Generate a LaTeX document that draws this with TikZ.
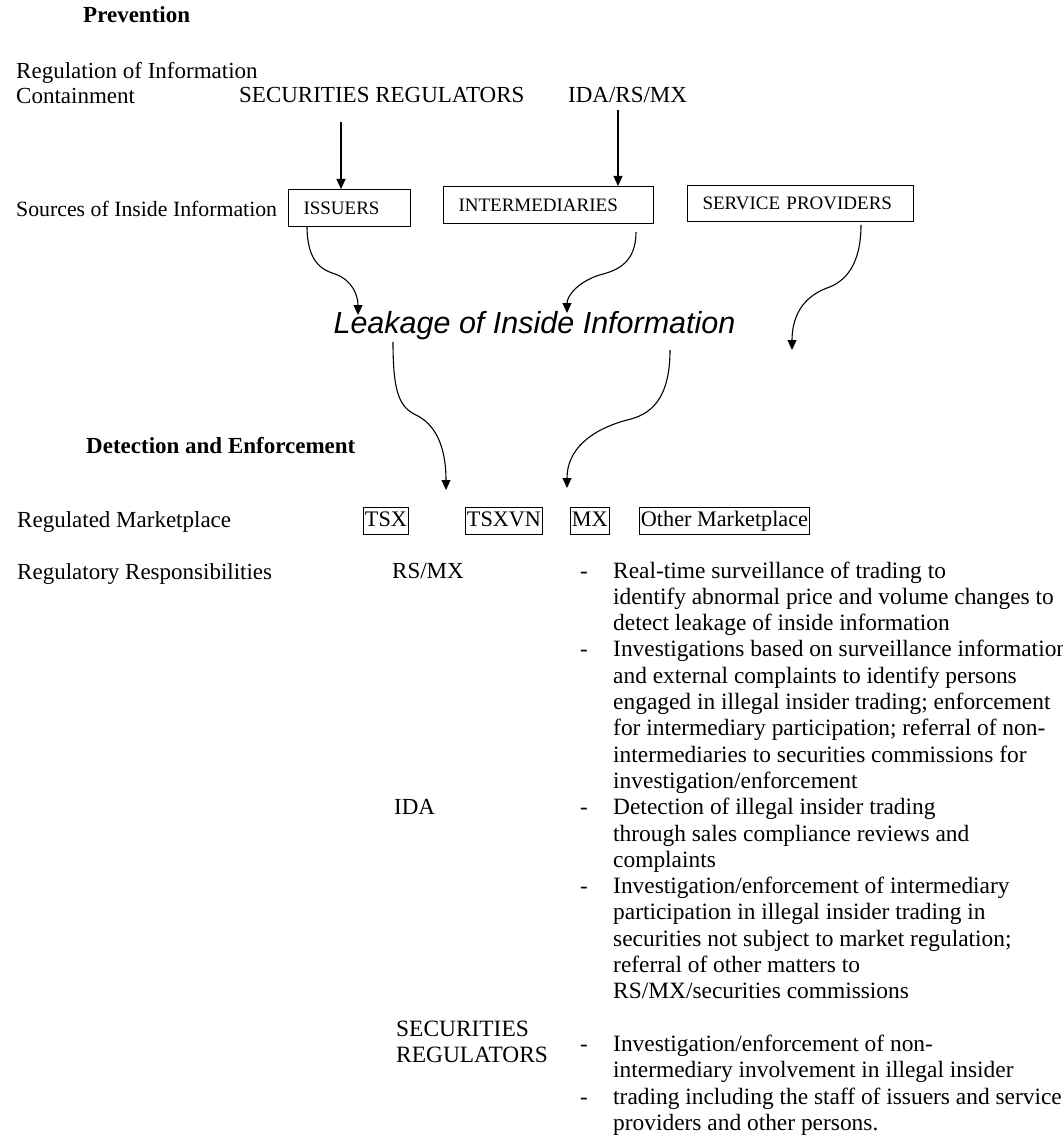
\documentclass[tikz,border=0pt]{standalone}
\usepackage{fontspec}
\setmainfont{Liberation Serif}
\newfontfamily\leakfont{Liberation Sans}
\usetikzlibrary{arrows.meta}
\begin{document}
\begin{tikzpicture}[x=1pt,y=-1pt,
  lbl/.style={anchor=base west, inner sep=0pt, font=\fontsize{23}{26.3}\selectfont},
  hdr/.style={anchor=base west, inner sep=0pt, font=\fontsize{23}{26.3}\selectfont\bfseries},
  srcbox/.style={draw, line width=1pt, anchor=north west, align=left, inner xsep=15pt, inner ysep=0pt, font=\fontsize{19}{22}\selectfont},
  mktbox/.style={draw, line width=0.9pt, anchor=base west, inner xsep=1.5pt, inner ysep=2.25pt, text height=16.5pt, text depth=6pt, font=\fontsize{22.2}{26}\selectfont},
  body/.style={anchor=base west, inner sep=0pt, align=left, font=\fontsize{23.4}{26.3}\selectfont},
  conn/.style={line width=1.1pt, -{Triangle[length=10pt,width=9pt]}},
]
\useasboundingbox[fill=white] (0,0) rectangle (1062,1139);

% headings and row labels
\node[hdr] (prev) at (83,23) {Prevention};
\node[lbl] (reg1) at (16,79) {Regulation of Information};
\node[lbl] (reg2) at (16,104) {Containment};
\node[lbl] (secreg) at (239,103) {SECURITIES REGULATORS};
\node[lbl] (idarsmx) at (568,103) {IDA/RS/MX};
\node[lbl, font=\fontsize{21.8}{26.3}\selectfont] (sources) at (16,217) {Sources of Inside Information};

% source boxes
\node[srcbox, text width=92pt, minimum height=37pt] (iss) at (288,189) {ISSUERS};
\node[srcbox, text width=180pt, minimum height=37pt] (int) at (443,186) {INTERMEDIARIES};
\node[srcbox, text width=196pt, minimum height=36pt] (svc) at (687,185) {SERVICE PROVIDERS};

% leakage
\node[anchor=base, inner sep=0pt, font=\leakfont\itshape\fontsize{30.5}{34}\selectfont] (leak) at (534.5,333) {Leakage of Inside Information};

% regulator arrows
\coordinate (srA) at (341,122);
\coordinate (idaA) at (618,110);
\draw[conn] (srA) -- (srA |- iss.north);
\draw[conn] (idaA) -- (idaA |- int.north);

% curves into leakage
\coordinate (c1s) at (307,226);
\coordinate (l1) at (358,315);
\coordinate (c2s) at (636,232);
\coordinate (l2) at (567,313);
\coordinate (c3s) at (861,225);
\coordinate (t3) at (792,350);
\draw[conn] (c1s) .. controls (307,262) and (322,270) .. (335,274) .. controls (352,280) and (358,295) .. (l1);
\draw[conn] (c2s) .. controls (636,262) and (618,270) .. (603,274) .. controls (580,280) and (567,295) .. (l2);
\draw[conn] (c3s) .. controls (861,265) and (845,282) .. (827,288) .. controls (800,298) and (792,320) .. (t3);

% curves out of leakage
\coordinate (c4s) at (393,342);
\coordinate (t4) at (446,490);
\coordinate (c5s) at (670,350);
\coordinate (t5) at (567,488);
\draw[conn] (c4s) .. controls (393,395) and (400,408) .. (418,416) .. controls (440,428) and (446,455) .. (t4);
\draw[conn] (c5s) .. controls (670,400) and (650,415) .. (627,420) .. controls (590,430) and (567,450) .. (t5);

% detection
\node[hdr] (det) at (86,453) {Detection and Enforcement};
\node[lbl] (regmkt) at (17,527) {Regulated Marketplace};
\node[mktbox] (tsx) at (363,526) {TSX};
\node[mktbox] (tsxvn) at (465,526) {TSXVN};
\node[mktbox] (mx) at (570,526) {MX};
\node[mktbox] (other) at (639,526) {Other Marketplace};

\node[lbl] (regresp) at (17,579) {Regulatory Responsibilities};

% RS/MX  (multi-line nodes: base anchor is on the last line)
\node[lbl] (rsmx) at (392,578) {RS/MX};
\node[lbl] (d1) at (580,578) {-};
\node[body] (b1) at (613,630.6) {Real-time surveillance of trading to\\identify abnormal price and volume changes to\\detect leakage of inside information};
\node[lbl] (d2) at (580,656.9) {-};
\node[body] (b2) at (613,788.4) {Investigations based on surveillance information\\and external complaints to identify persons\\engaged in illegal insider trading; enforcement\\for intermediary participation; referral of non-\\intermediaries to securities commissions for\\investigation/enforcement};

% IDA
\node[lbl] (ida) at (394,814.7) {IDA};
\node[lbl] (d3) at (580,814.7) {-};
\node[body] (b3) at (613,867.3) {Detection of illegal insider trading\\through sales compliance reviews and\\complaints};
\node[lbl] (d4) at (580,893.6) {-};
\node[body] (b4) at (613,998.8) {Investigation/enforcement of intermediary\\participation in illegal insider trading in\\securities not subject to market regulation;\\referral of other matters to\\RS/MX/securities commissions};

% securities regulators
\node[body] (secreg2) at (396,1062.3) {SECURITIES\\REGULATORS};
\node[lbl] (d5) at (580,1051.4) {-};
\node[body] (b5) at (613,1077.7) {Investigation/enforcement of non-\\intermediary involvement in illegal insider};
\node[lbl] (d6) at (580,1104) {-};
\node[body] (b6) at (613,1130.3) {trading including the staff of issuers and service\\providers and other persons.};
\end{tikzpicture}
\end{document}
